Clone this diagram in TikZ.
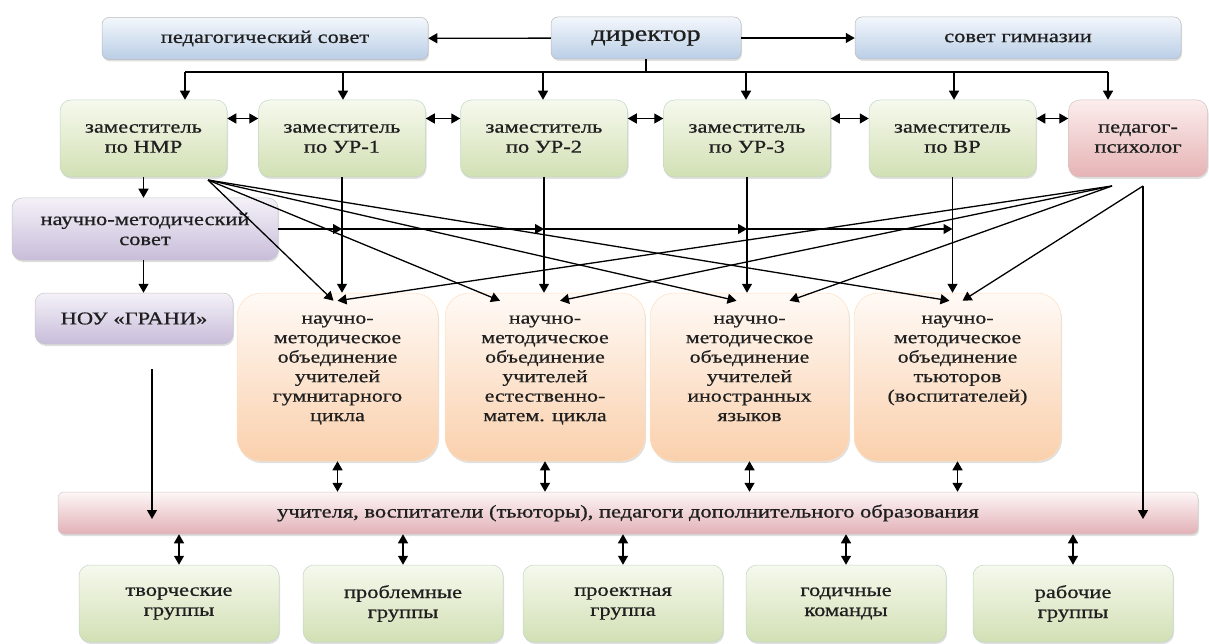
\documentclass[tikz,border=0pt]{standalone}
\usepackage{fontspec}
\setmainfont{Liberation Serif}[FakeStretch=1.25,FakeBold=0.7]
\usetikzlibrary{calc}
\usetikzlibrary{arrows.meta}
\usetikzlibrary{shadows}
\definecolor{bluetop}{HTML}{F3F7FC}
\definecolor{bluebot}{HTML}{BACEE6}
\definecolor{greentop}{HTML}{F6F9EE}
\definecolor{greenbot}{HTML}{D2E0B4}
\definecolor{pinktop}{HTML}{FCEDED}
\definecolor{pinkbot}{HTML}{E6B3B4}
\definecolor{lavtop}{HTML}{F4F1F8}
\definecolor{lavbot}{HTML}{C8BDDA}
\definecolor{peachtop}{HTML}{FFFAF6}
\definecolor{peachbot}{HTML}{FAD0AC}
\definecolor{bartop}{HTML}{FDF6F6}
\definecolor{barbot}{HTML}{E2B1B7}
\tikzset{
 box/.style={line width=0.5pt, rounded corners=7pt, align=center, inner sep=0pt,
  drop shadow={opacity=0.25, shadow xshift=1pt, shadow yshift=-2pt},
  font=\fontsize{18}{20}\selectfont, text=black!88},
 topbox/.style={box, draw=gray!55, top color=bluetop, bottom color=bluebot, minimum height=42pt},
 zambox/.style={box, rounded corners=11pt, draw=green!20!gray!40, top color=greentop, bottom color=greenbot, minimum width=167pt, minimum height=77pt},
 lavbox/.style={box, rounded corners=10pt, draw=gray!45, top color=lavtop, bottom color=lavbot},
 nmobox/.style={box, rounded corners=24pt, draw=orange!25, top color=peachtop, bottom color=peachbot, minimum height=168pt},
 nmotext/.style={anchor=north, align=center, inner sep=0pt, font=\fontsize{17.5}{19.5}\selectfont, text=black!88},
 barbox/.style={box, rounded corners=6pt, draw=gray!40, top color=bartop, bottom color=barbot},
 grpbox/.style={zambox, minimum width=200pt},
}
\begin{document}
\begin{tikzpicture}[x=1pt,y=-1pt, >={Triangle[length=9pt,width=10pt]}, line width=1.3pt]
\useasboundingbox (0,0) rectangle (1209,644);

\node[topbox, minimum width=326pt] (ped) at (265,38.5) {педагогический совет};
\node[topbox, minimum width=190pt, font=\fontsize{22.5}{24}\selectfont] (dir) at (646,38) {директор};
\node[topbox, minimum width=326pt] (sg) at (1018,38) {совет гимназии};

\foreach \n/\x/\t in {nmr/143.5/{заместитель\\по НМР}, ur1/342/{заместитель\\по УР-1},
  ur2/544/{заместитель\\по УР-2}, ur3/747/{заместитель\\по УР-3}, vr/952.5/{заместитель\\по ВР}}
  \node[zambox] (\n) at (\x,138.5) {\t};
\node[zambox, minimum width=139pt, draw=red!15!gray!40, top color=pinktop, bottom color=pinkbot] (psy) at (1138,138.5) {педагог-\\психолог};

\node[lavbox, minimum width=266pt, minimum height=62pt] (nms) at (145,229) {научно-методический\\совет};
\node[lavbox, minimum width=198pt, minimum height=51pt] (nou) at (134,318.5) {НОУ «ГРАНИ»};

\foreach \n/\x/\w/\t in {n1/337.5/201/{научно-\\методическое\\объединение\\учителей\\гумнитарного\\цикла},
  n2/545/200/{научно-\\методическое\\объединение\\учителей\\естественно-\\матем. цикла},
  n3/749.5/199/{научно-\\методическое\\объединение\\учителей\\иностранных\\языков},
  n4/957.5/207/{научно-\\методическое\\объединение\\тьюторов\\(воспитателей)}} {
  \node[nmobox, minimum width=\w pt] (\n) at (\x,377) {};
  \node[nmotext] (\n t) at ($(\n.north)+(0,22)$) {\t};
}

\node[barbox, minimum width=1140pt, minimum height=42pt] (bar) at (628,513) {учителя, воспитатели (тьюторы), педагоги дополнительного образования};

\foreach \n/\x/\t in {g1/179/{творческие\\группы}, g2/403/{проблемные\\группы}, g3/623/{проектная\\группа},
  g4/846/{годичные\\команды}, g5/1073/{рабочие\\группы}}
  \node[grpbox] (\n) at (\x,603.5) {\t};

\draw[->] (dir) -- (ped);
\draw[->] (dir) -- (sg);
\coordinate (bl) at (185,72);
\coordinate (br) at (1108,72);
\draw (dir.south) -- (dir.south |- bl);
\draw (bl) -- (br);
\foreach \n/\x in {nmr/185, ur1/343, ur2/543, ur3/746, vr/954, psy/1108} {
  \coordinate (t\n) at (\x,72);
  \draw[->] (t\n) -- (t\n |- \n.north);
}
\foreach \a/\b in {nmr/ur1, ur1/ur2, ur2/ur3, ur3/vr, vr/psy}
  \draw[<->] ([yshift=20pt]\a.east) -- ([yshift=20pt]\b.west);

\draw[->] (nmr.south) -- (nmr.south |- nms.north);
\draw[->] (nmr.south |- nms.south) -- (nmr.south |- nou.north);
\foreach \a/\b in {ur1/n1, ur2/n2, ur3/n3, vr/n4}
  \draw[->] (\a.south) -- (\a.south |- \b.north);

\draw[->] (nms.east) -- (nms.east -| ur1.south);
\foreach \a/\b in {ur1/ur2, ur2/ur3, ur3/vr}
  \draw[->] (nms.east -| \a.south) -- (nms.east -| \b.south);

\coordinate (nmrc) at (208,180);
\foreach \n/\dx in {n1/-4, n2/-45, n3/-13, n4/-8}
  \draw[->] (nmrc) -- ($(\n.north)+(\dx,8)$);

\coordinate (psyc) at (1112,186);
\coordinate (psyv) at (1143,186);
\foreach \n/\dx in {n1/0, n2/15, n3/40}
  \draw[->] (psyc) -- ($(\n.north)+(\dx,8)$);
\draw[->] (psyv) -- ($(n4.north)+(5,8)$);
\draw[->] (psyv) -- ($(psyv |- bar.center)+(0,6)$);

\coordinate (nouv) at (152,369);
\draw[->] (nouv) -- ($(nouv |- bar.center)+(0,6)$);

\foreach \n in {n1,n2,n3,n4}
  \draw[<->] (\n.south) -- (\n.south |- bar.north);
\foreach \n in {g1,g2,g3,g4,g5}
  \draw[<->] (\n.north) -- (\n.north |- bar.south);
\end{tikzpicture}
\end{document}
